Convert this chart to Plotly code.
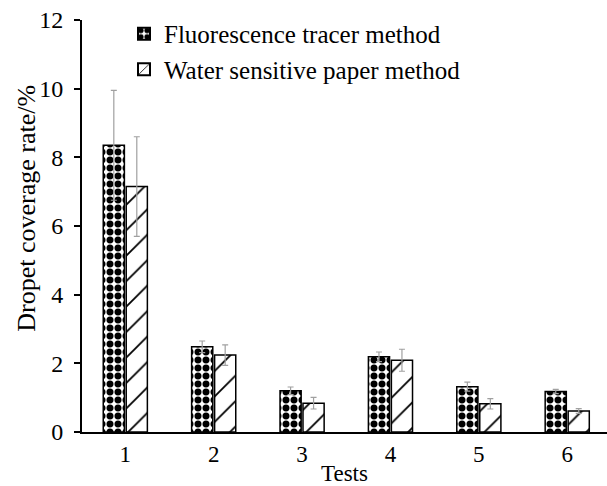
import plotly.graph_objects as go

tests = ["1", "2", "3", "4", "5", "6"]
fluor = [8.35, 2.48, 1.20, 2.19, 1.32, 1.18]
fluor_err = [1.60, 0.17, 0.11, 0.14, 0.13, 0.06]
water = [7.15, 2.24, 0.84, 2.09, 0.82, 0.61]
water_err = [1.45, 0.30, 0.17, 0.32, 0.15, 0.07]
y_ticks = [0, 2, 4, 6, 8, 10, 12]

FONT = "Liberation Serif, Times New Roman, serif"
err_style = dict(type="data", visible=True, color="#a0a0a0", thickness=1.2, width=3)

fig = go.Figure()
fig.add_trace(go.Bar(
    x=tests, y=fluor, name="Fluorescence tracer method",
    error_y=dict(array=fluor_err, **err_style),
    marker=dict(color="white", line=dict(color="black", width=1.5),
                pattern=dict(shape=".", fgcolor="black", bgcolor="white",
                             size=8, solidity=0.6, fillmode="replace")),
))
fig.add_trace(go.Bar(
    x=tests, y=water, name="Water sensitive paper method",
    error_y=dict(array=water_err, **err_style),
    marker=dict(color="white", line=dict(color="black", width=1.5),
                pattern=dict(shape="/", fgcolor="black", bgcolor="white",
                             size=18, solidity=0.1, fillmode="replace")),
))

fig.add_annotation(
    text="Dropet coverage rate/%", textangle=-90,
    xref="paper", yref="paper", x=-0.105, y=0.544,
    xanchor="center", yanchor="middle", showarrow=False,
    font=dict(family=FONT, size=26, color="black"),
)

fig.update_layout(
    width=607, height=486,
    margin=dict(l=82, r=0, t=20, b=54),
    paper_bgcolor="white", plot_bgcolor="white",
    barmode="group", bargap=0.48, bargroupgap=0.08,
    font=dict(family=FONT, size=24, color="black"),
    showlegend=True,
    legend=dict(x=0.08, y=1.022, xanchor="left", yanchor="top",
                bgcolor="rgba(0,0,0,0)", font=dict(family=FONT, size=25),
                tracegroupgap=0, itemsizing="constant"),
    xaxis=dict(
        type="category", range=[-0.49, 5.45],
        showline=True, linecolor="black", linewidth=2,
        ticks="", showgrid=False, zeroline=False,
        tickfont=dict(family=FONT, size=23),
        title=dict(text="Tests", font=dict(family=FONT, size=23), standoff=0),
    ),
    yaxis=dict(
        range=[0, 12], tickvals=y_ticks, ticktext=[str(v) for v in y_ticks],
        showline=True, linecolor="black", linewidth=2,
        ticks="outside", ticklen=6, tickwidth=1.5, tickcolor="black",
        ticklabelstandoff=6,
        showgrid=False, zeroline=False,
        tickfont=dict(family=FONT, size=24),
    ),
)

fig.write_html("out.html", config={"displayModeBar": False},
               post_script="document.body.style.margin='0';document.body.style.overflow='hidden';")
